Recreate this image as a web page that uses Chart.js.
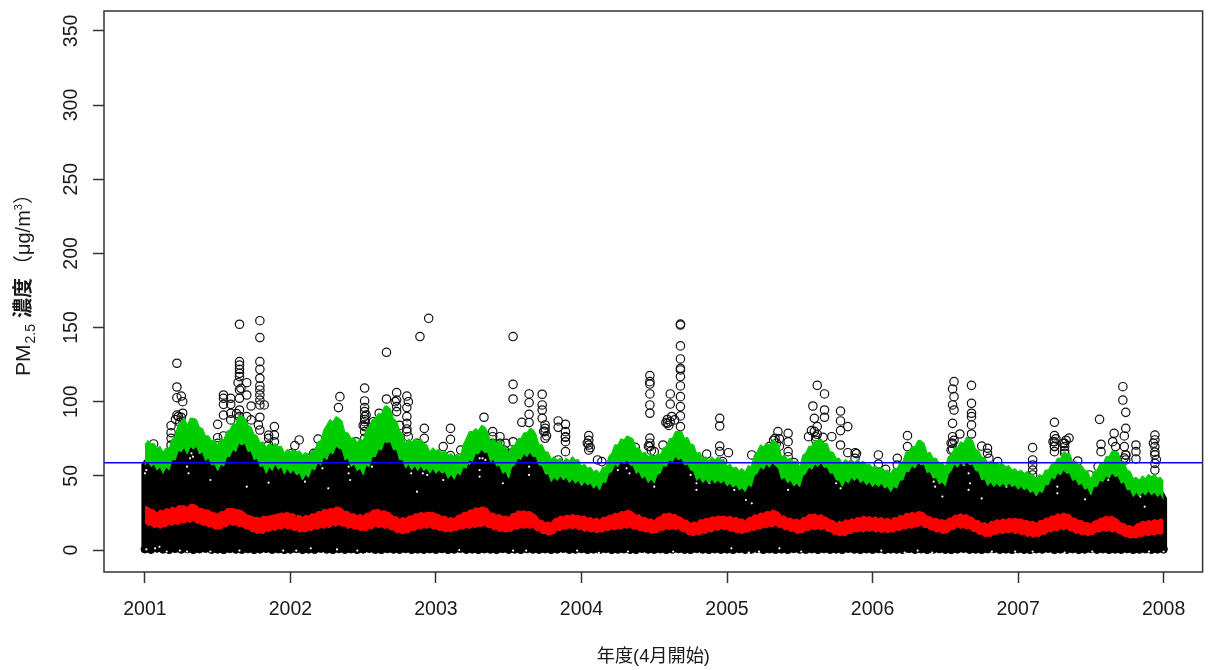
<!DOCTYPE html>
<html>
<head>
<meta charset="utf-8">
<style>
  html, body { margin: 0; padding: 0; background: #fff; }
  canvas { display: block; }
</style>
<script src="https://cdn.jsdelivr.net/npm/chart.js@4/dist/chart.umd.min.js"></script>
</head>
<body>
<canvas id="pmChart" width="1208" height="670"></canvas>
<script>
/* ─── Data ─── */
const yearTicks = [2001, 2002, 2003, 2004, 2005, 2006, 2007, 2008];
const valueTicks = [0, 50, 100, 150, 200, 250, 300, 350];
const referenceLevel = 58.9;

// half-month readings, one row per year
const greenTop = [
  70.8,71.5,68.6,65.9,68.6,76.9,86.5,84.3,88.8,82.7,76.9,73.7,70.8,74.2,80.9,85,90.4,84.3,78.2,72.4,69.2,70.1,69.7,65.6,
  66.3,65.9,64.1,63.2,67,73.7,84.3,86.5,88.8,79.1,75.3,72.4,73.7,83.2,88.8,91.7,97.1,88.8,80.9,71.9,72.8,73.5,71.9,66.3,
  67,65.6,64.1,62.9,62.9,75.3,79.8,80.5,83.2,73,72.4,70.1,65.2,70.8,75.3,79.1,81.4,70.8,66.3,61.4,60.7,59.6,60.2,60.7,
  56.6,55.1,52.8,51.7,55.7,65.6,70.8,74.2,76,68.6,65.2,62.9,62.5,64.1,69.7,75.3,79.8,75.3,71.5,65.2,61.8,60.2,60.7,60.7,
  56.6,55.1,53.5,52.8,56.2,66.3,69.7,70.8,73,62.9,61.1,59.6,56.2,65.6,70.1,73.7,71.9,66.3,61.8,58.4,59.6,58.9,58.9,57.3,
  55.7,54.4,53.5,51.7,54.4,59.6,66.3,69.7,73.7,65.2,61.8,58.4,56.2,64.1,69.2,71.9,75.3,67.9,62.9,58.9,57.3,57.3,56.2,53.9,
  52.8,51.7,50.6,47.7,49.9,53.9,58,61.8,65.2,59.6,56.6,53.9,47.7,53.9,58,62.9,66.3,59.6,53.9,48.3,47.2,48.3,49.5,48.3,46.1
];
// spike tips between the half-month readings
const greenTopTips = [
  74,72,70,69,75,85,89,89,88,82,77,74,75,80,85,91,89,83,77,73,72,72,70,68,
  68,67,66,67,73,81,88,90,87,79,76,75,81,88,92,97,95,87,78,75,75,75,71,69,
  68,67,65,65,71,80,82,84,80,75,74,70,70,75,79,82,78,71,66,63,62,62,63,61,
  58,56,54,56,63,71,75,77,75,69,66,65,65,69,75,80,80,76,71,66,63,63,63,61,
  58,56,55,57,64,71,72,74,71,64,62,60,64,70,74,75,72,66,62,61,61,61,60,58,
  57,56,54,55,59,66,70,74,72,66,62,59,63,69,73,76,74,67,62,60,59,58,57,55,
  54,53,51,51,54,58,62,66,65,60,57,53,53,58,63,67,66,59,53,49,50,51,51,49
];
const greenLow = [
  57.3,56.2,53.9,51.7,53.9,60.7,66.3,64.7,67.9,64.7,60.2,57.3,53.5,56.6,62.9,66.3,70.8,66.3,60.7,56.2,51.7,53.5,54.4,51.2,
  51.7,50.6,47.2,49,53.9,57.3,61.1,64.7,68.6,60.7,56.2,53.5,50.6,56.2,62.9,67.4,72.4,67.4,60.7,55.1,53.9,53.5,53.5,51.7,
  51.7,51.7,48.3,47.7,50.6,55.1,59.6,64.7,65.6,59.6,56.6,51.7,48.3,57.3,61.1,62.9,62.9,57.3,51.7,46.1,46.8,47.2,45.4,45,
  43.2,43.8,41.6,40.5,45.4,52.8,56.2,58,57.3,51.7,48.3,45.4,45,51.7,56.2,59.6,60.7,57.3,53.9,46.8,45.4,44.5,45,45,
  43.2,42.3,40.5,39.3,42.7,51.7,54.4,55.7,56.6,47.7,45.4,43.2,42.7,51.7,54.4,56.2,55.7,51.7,47.2,42.7,45,46.8,45.4,43.8,
  42.7,42.7,41.6,39.3,41.6,47.2,52.8,55.1,57.3,52.1,48.3,44.5,43.2,53.5,55.7,56.6,57.3,53.5,47.2,43.2,42.7,42.7,42.7,42.7,
  40.9,40.5,38.7,36.4,38.7,43.8,47.7,50.6,51.7,46.8,43.8,40.9,37.1,42.7,46.1,48.3,49.5,45,40.5,36,36,37.1,37.1,36,34.2
];
const greenLowTips = [
  60,58,56,56,61,67,69,70,70,66,62,58,58,63,68,72,72,67,62,57,56,58,56,55,
  54,52,51,55,59,63,66,70,68,62,58,55,57,63,68,73,73,68,61,58,57,57,55,55,
  54,53,51,52,56,61,65,68,66,61,57,53,56,62,65,66,63,57,52,49,50,49,48,47,
  46,45,44,46,52,58,60,61,57,53,50,48,51,57,61,63,62,58,53,49,48,48,47,47,
  45,44,42,44,50,56,58,59,55,49,47,45,50,56,58,59,56,52,47,47,49,49,47,46,
  45,45,43,43,47,53,57,59,58,53,49,46,51,58,59,60,58,53,48,46,45,45,45,44,
  43,42,40,40,44,49,52,54,52,48,45,42,43,47,50,52,50,46,41,39,39,40,39,38
];
const redTop = [
  29.2,27.4,25.2,26.3,27.4,28.1,29.7,28.8,30.8,28.1,27,25.6,24.3,25.8,27.9,27.4,26.5,23.4,22,21.4,22.5,23.4,24.3,24.7,
  24.3,22.9,22,22.9,24.3,25.8,27,27.6,28.8,25.8,24.3,23.2,22.9,24.7,27,26.1,25.6,22.5,20.7,21.2,22.9,24.3,24.7,25.2,
  24.3,22.5,21.4,20.9,23.6,25.2,27,27.9,28.8,24.7,23.6,22.5,22,24.7,25.8,25.6,24.7,20.2,18.4,18,21.6,22.5,22.9,23.2,
  22.5,21.6,20.7,20.2,22,23.4,24.3,25.6,26.3,23.4,22,20.7,19.8,22.5,24.3,23.8,22.5,20.2,18,18.4,20.2,21.1,22,22.5,
  22,21.4,20.7,19.8,22,23.4,24.7,25.6,26.3,22.9,21.4,20.2,19.8,22,23.8,22.9,22.5,20.2,18,18.7,19.8,20.7,21.6,22,
  21.4,21.1,20.7,20.2,21.6,22.9,24.3,24.7,25.6,22.9,21.1,20.2,19.6,21.6,23.4,23.4,22.5,19.8,18,17.3,19.3,19.8,20.2,20.7,
  20.7,19.8,18.9,18,19.8,21.4,22.9,23.8,24.3,21.6,19.8,18.4,17.5,19.8,21.6,22,21.4,18,16.2,15.3,18,18.9,19.3,19.8,20.2
];
const redTopTips = [
  29,27,27,28,29,30,30,31,30,28,27,25,26,28,28,27,25,23,22,23,23,24,25,25.5,
  24.5,23.5,23.5,24.5,26,27.5,28,29,28,26,24.5,24,25,27,27.5,26.5,25,22.5,22,23,24.5,25.5,25.5,25.5,
  24,23,22,23.5,25.5,27,28.5,29,28,25,24,23,24.5,26.5,26.5,26,23.5,20,19,21,23,23.5,24,23.5,
  23,22,21.5,22,23.5,25,26,27,25.5,24,22,21,22,24.5,25,24,22,20,19,20.5,21.5,22.5,23,23,
  23,22,21,22,24,25,26,27,25.5,23,21.5,21,22,24,24.5,24,22,20,19.5,20.5,21,22,23,22.5,
  22.5,22,21.5,22,23.5,25,25.5,26,25,22.5,21.5,20.5,21.5,23.5,24.5,24,22,20,18.5,19.5,20.5,21,21.5,21.5,
  21,20,19.5,20,21.5,23,24.5,25,24,21.5,20,18.5,19.5,21.5,23,23,20.5,18,16.5,17.5,19.5,20,20.5,21
];
const redLow = [
  18.4,16.9,15.7,15.7,17.3,18,18.9,19.3,20.2,18,16.9,15.7,14.2,15.7,17.8,17.1,16.2,14.4,12.4,11.7,13,13.9,14.6,15.3,
  14.8,13.5,12.8,13.5,14.6,15.3,15.7,16.9,17.3,16.2,15.3,14.4,13.5,14.6,16.2,15.7,15.3,13.5,11.9,11.7,13.5,14.6,15.3,15.7,
  14.6,13.5,13,13.5,14.6,15.3,15.7,16.2,16.9,15.3,13.9,13,12.8,14.4,15.3,15.3,15.5,13,11.2,10.6,13.5,14.4,15.1,15.3,
  13.9,13.5,12.8,12.4,13.5,14.4,14.6,15.3,15.7,14.4,13.5,12.8,11.7,13.5,14.6,14.6,14.6,12.6,10.3,10.8,11.7,12.6,13.9,14.6,
  14.2,13,11.9,12.1,13.5,14.4,15.3,16.2,16.9,15.3,13.9,12.8,11.7,13.5,14.6,14.6,14.6,12.6,10.8,10.1,11.2,12.6,13,13.5,
  13.5,13,12.6,12.6,13.5,14.6,15.3,15.7,16.9,15.3,13.5,12.6,11.7,13.9,15.7,15.3,14.6,12.4,10.8,9.4,10.8,11.7,12.1,12.4,
  11.7,10.8,9.9,9.4,10.8,12.4,13.5,14.4,14.6,13,11.7,10.8,10.6,12.4,13.5,13.5,13,10.8,9,8.5,9.4,10.3,10.8,11.2,11.7
];
const redLowTips = [
  16.5,15,14.5,15.5,16.5,17,18,18.5,18,16.5,15.5,14,14,15.5,16.5,15.5,14,12.5,11,11,12.5,13,13.8,14,
  13,12,12,13,14,14.5,15,16,16,14.5,14,13,13,14,15,14.5,13.5,11.5,10.8,11.5,13,14,14.5,14,
  13,12,12,13,14,14.5,15,15.5,15,13.5,12.5,12,12.5,14,14.5,14.5,13,11,10,11,13,13.8,14,13.5,
  12.5,12,11.5,12,13,13.5,14,14.5,14,13,12,11,11.5,13,13.5,13.5,12.5,10.5,9.5,10,11,12,13,13.5,
  12.5,11.5,11,12,13,14,15,15.5,15,13.5,12.5,11,11.5,13,13.5,13.5,12.5,10.5,9.5,9.5,11,12,12,12.5,
  12,11.5,11.5,12,13,14,14.5,15.5,15,13.5,12,11,12,14,14.5,14,12.5,10.5,9,9,10.5,11,11.5,11,
  10,9,8.5,9,10.5,12,13,13.5,13,11,10,9.5,10.5,12,12.5,12,11,9,8,8,9,9.5,10,10.5
];
// lowest readings along the floor of the cloud
const floorValues = [
  0.5,0.2,1,0.4,0.1,0.8,0.3,0.6,0.1,0.5,0.9,0.2,0.4,0.1,0.7,0.3,0.2,0.6,0.1,0.4,0.8,0.2,0.5,0.1,
  0.3,0.7,0.1,0.4,0.2,0.9,0.3,0.1,0.6,0.2,0.5,0.1,0.4,0.8,0.2,0.1,0.6,0.3,0.2,0.7,0.1,0.4,0.2,0.5,
  0.2,0.6,0.1,0.3,0.8,0.2,0.4,0.1,0.5,0.3,0.1,0.7,0.2,0.4,0.1,0.6,0.3,0.2,0.5,0.1,0.4,0.8,0.2,0.3,
  0.6,0.1,0.4,0.2,0.7,0.1,0.3,0.5,0.2,0.1,0.8,0.3,0.2,0.5,0.1,0.4,0.6,0.2,0.1,0.7,0.3,0.1,0.5,0.2,
  0.4,0.1,0.6,0.2,0.3,0.8,0.1,0.5,0.2,0.4,0.1,0.7,0.3,0.2,0.5,0.1,0.6,0.2,0.4,0.1,0.8,0.3,0.1,0.5,
  0.2,0.6,0.1,0.4,0.3,0.1,0.7,0.2,0.5,0.1,0.3,0.6,0.2,0.1,0.4,0.8,0.2,0.3,0.1,0.5,0.7,0.2,0.4,0.1,
  0.6,0.2,0.1,0.5,0.3,0.8,0.1,0.4,0.2,0.6,0.1,0.3,0.7,0.2,0.5,0.1,0.4,0.2,0.6,0.1,0.3,0.5,0.2,0.4,0.6
];

// single high readings, one row per year; last rows are the clumps on the green band
const highYears = [
  2001.06, 2001.18,2001.18,2001.18,2001.18, 2001.22,2001.22,2001.22,2001.22, 2001.25,2001.25,2001.26,2001.26,
  2001.50,2001.50,2001.50, 2001.54,2001.54,2001.54,2001.54,2001.54, 2001.59,2001.59,2001.59,2001.59, 2001.64,
  2001.65,2001.65,2001.65,2001.65,2001.65,2001.65,2001.65,2001.65,2001.65, 2001.66, 2001.70,2001.70,2001.70, 2001.73,2001.73, 2001.78,
  2001.79,2001.79,2001.79,2001.79,2001.79,2001.79,2001.79,2001.79,2001.79,2001.79,2001.79,2001.79, 2001.82, 2001.85,2001.85,2001.85, 2001.89,2001.89,2001.89,
  2002.01, 2002.03, 2002.06, 2002.12, 2002.16, 2002.19, 2002.33, 2002.34, 2002.45, 2002.50,
  2002.51,2002.51,2002.51,2002.51,2002.51,2002.51,2002.51,2002.51,2002.51, 2002.57, 2002.61, 2002.66,2002.66,
  2002.72, 2002.73,2002.73,2002.73,2002.73, 2002.80,2002.80,2002.80,2002.80,2002.80,2002.80, 2002.81,2002.81, 2002.87, 2002.89, 2002.92,2002.92, 2002.95,
  2003.05, 2003.10,2003.10,2003.10, 2003.17, 2003.33, 2003.39,2003.39,2003.39, 2003.44,2003.44, 2003.47, 2003.48, 2003.51, 2003.53,2003.53,2003.53,2003.53,
  2003.59, 2003.64,2003.64,2003.64,2003.64, 2003.73,2003.73,2003.73,2003.73, 2003.75,2003.75,2003.75, 2003.84,2003.84,2003.84,
  2003.89,2003.89,2003.89,2003.89,2003.89,
  2004.05,2004.05,2004.05, 2004.11, 2004.14, 2004.37, 2004.47,2004.47,2004.47,2004.47,2004.47,2004.47,2004.47,2004.47, 2004.50, 2004.56, 2004.59,
  2004.61,2004.61,2004.61, 2004.64, 2004.68,2004.68,2004.68,2004.68,2004.68,2004.68,2004.68,2004.68,2004.68,2004.68,2004.68,2004.68,
  2004.86, 2004.95,2004.95,2004.95,2004.95, 2004.97,
  2005.01, 2005.17, 2005.29, 2005.33, 2005.35, 2005.42,2005.42,2005.42,2005.42, 2005.46, 2005.56, 2005.58, 2005.59, 2005.60,
  2005.61, 2005.62,2005.62, 2005.66, 2005.67,2005.67,2005.67, 2005.72, 2005.78,2005.78,2005.78,2005.78, 2005.83,2005.83, 2005.88,2005.88,
  2006.04,2006.04, 2006.09, 2006.17,2006.17, 2006.24,2006.24, 2006.54, 2006.55,2006.55,2006.55,2006.55,2006.55, 2006.56,2006.56,2006.56,
  2006.60, 2006.68,2006.68,2006.68,2006.68,2006.68,2006.68, 2006.75, 2006.79,2006.79, 2006.80, 2006.86,
  2007.10,2007.10,2007.10,2007.10,2007.10, 2007.25,2007.25,2007.25,2007.25,2007.25, 2007.32,2007.32,2007.32, 2007.35, 2007.41, 2007.49,
  2007.55, 2007.56, 2007.57,2007.57, 2007.65, 2007.66, 2007.67, 2007.72,2007.72, 2007.73,2007.73, 2007.74,2007.74,2007.74,2007.74,
  2007.81,2007.81,2007.81, 2007.94,2007.94,2007.94,2007.94,2007.94,2007.94,
  2001.21,2001.23,2001.24, 2001.63,2001.65, 2002.50,2002.51,2002.52, 2002.75, 2003.74,2003.75,2003.76, 2003.89,
  2004.04,2004.05,2004.06, 2004.46,2004.47,2004.48, 2004.58,2004.59,2004.60,2004.62,
  2005.32,2005.34,2005.36,2005.36, 2005.60,2005.61,2005.62, 2005.89, 2006.54,2006.55,2006.56,
  2007.24,2007.25,2007.26, 2007.31,2007.32,2007.33, 2007.73,2007.74, 2007.93,2007.94,2007.95
];
const highValues = [
  71.5, 83.8,79.1,75.3,70.8, 125.9,109.9,102.7,91, 103.8,89.5,100,92.2,
  84.7,75.7,71.9, 104.5,102.3,98.2,91,76.9, 102.3,98.2,92.2,87.7, 112.8,
  152.2,127,124.7,121.8,119.1,116.9,107.9,102.3,94.4, 109, 112.8,104.5,89.9, 97.1,87.7, 84.3,
  154.6,143.2,127,121.8,115.8,110.6,107.9,104.5,101.1,97.8,89.5,80.9, 97.8, 77.5,75.3,70.8, 83.2,77.5,73,
  65.2, 70.4, 74.2, 61.8, 65.2, 74.8, 96, 103.4, 73, 70.8,
  109.2,100.5,96,93.3,89.9,86.5,83.2,79.8,75.3, 86.5, 92.2, 133.3,101.8,
  100, 106.1,101.1,96.7,93.3, 103.8,96,89.9,85.4,81.6,79.8, 100,76.4, 71.9, 143.9, 82,75.3, 156.2,
  69.7, 82,74.6,63.6, 67.4, 89.5, 79.8,76.4,71.9, 76.4,71.9, 67.4, 71.9, 65.2, 143.9,111.7,101.8,73,
  86.1, 105.2,99.3,91.5,85.9, 105,97.8,94.4,88.8, 84.3,79.8,75.3, 87,82.7,60.7,
  84.7,79.8,76.4,73,66.3,
  77.1,70.8,67.4, 60.7, 59.6, 69.2, 117.6,113.5,111.9,105.2,97.8,92.2,75.5,69.7, 66.3, 70.8, 85.4,
  105.2,98.4,86.5, 87.7, 152.3,151.7,137.6,128.8,122.5,121.4,116.9,110.6,103.4,96.7,90.4,83.2,
  64.7, 88.8,83.6,70.1,66.3, 59.6,
  65.6, 64.1, 69.7, 75.3, 79.8, 78.7,73,66.3,62.9, 58.9, 76.4, 80.5, 97.1, 88.8,
  76.4, 111,83.2, 76, 105.2,94.4,89.5, 76.4, 93.7,87,80.5,70.8, 83.2,65.6, 65.6,61.8,
  64.1,58, 54.4, 61.8,57.3, 77.1,69.7, 67.4, 108.6,97.8,85.4,76.4,71.9, 113.5,103.4,94.4,
  78.2, 111,98.9,92.2,89.9,84.3,78.2, 70.1, 68.6,65.2, 61.8, 59.6,
  69,60.7,57.3,53.9,50.6, 86.1,77.1,73,69.7,66.3, 71.9,69.7,65.2, 75.5, 60, 50.6,
  56.2, 88.1, 71.3,66.3, 73, 78.7, 69.7, 110.1,101.1, 69.7,76.9, 92.8,82,64.1,60.7,
  70.8,66.3,61.4, 77.5,74.2,69.7,64.1,58.4,53.9,
  88,90,86, 92,90, 84,88,91, 84, 80,82,77, 76,
  72,74,69, 70,72,67, 86,88,84,90,
  74,72,70,75, 80,74,78, 65, 72,68,74,
  73,70,75, 72,67,74, 62,64, 72,66,61
];

// white gaps left inside the black cloud
const gapYears = [
  2001.01,2001.07,2001.10,2001.15,2001.24,2001.29,2001.45,2001.65,2001.95,2001.32,2001.31,2001.33,2001.29,2001.30,2001.01,2001.00,2001.85,2001.70,2001.45,
  2002.25,2002.40,2002.40,2002.41,2002.56,2002.22,2002.26,2002.83,2002.94,2002.91,2002.10,2002.87,2002.04,2002.14,2002.32,2002.46,
  2003.32,2003.30,2003.34,2003.30,2003.30,2003.23,2003.46,2003.64,2003.64,2003.76,2003.05,2003.16,2003.53,2003.62,
  2004.31,2004.33,2004.25,2004.75,2004.79,2004.79,2004.88,2004.50,2003.97,2004.12,2004.32,2004.63,
  2005.13,2005.17,2005.05,2005.75,2005.78,2005.42,2005.03,2005.15,2005.22,2005.36,2005.51,
  2006.43,2006.48,2006.63,2006.66,2006.67,2006.66,2006.75,2006.92,2006.42,2006.06,2006.22,2006.31,2006.41,2006.82,
  2007.27,2007.27,2007.62,2007.46,2007.87,2007.84,2006.98,2007.10,2007.32,2007.51,2007.90,2008.00
];
const gapValues = [
  0.4,1.1,2.2,-1,-0.4,-1,-1,-0.4,-0.4,65.2,61.8,62.9,56.2,51.7,53.9,51.7,45.4,42.7,47.2,
  61.8,56.2,51.7,47.2,56.2,55.1,41.6,51.7,50.6,51.7,46.1,39.3,-0.4,1.1,0.4,-0.4,
  61.8,61.8,60.7,53.9,49.5,58.4,45,56.2,50.6,51.7,47.2,0,-0.4,-0.4,
  55.1,51.7,53.9,50.6,45,40.5,45,42.7,-0.4,-2,-1,-1,
  33.7,31.5,40.5,45,41.6,40.5,1.1,-1.8,-1,1.1,-1,
  42.7,36,57.3,51.7,45,40.5,34.8,42.7,46.1,-0.4,-1.8,-0.4,-1.8,-1,
  42.7,38.2,47.2,34.2,29.2,36,-1,-1,-1.8,-1,-1,-1
];

/* ─── Helpers ─── */
// reading, tip, reading, tip ... every quarter of a month
const weave = (readings, tips) =>
  readings.flatMap((v, i) => (i < tips.length ? [v, tips[i]] : [v]));
const alongYears = (values) => values.map((v, i) => ({ x: 2001 + i / 48, y: v }));
const onSamples = (values) => values.map((v, i) => ({ x: 2001 + i / 24, y: v }));
const zip = (xs, ys) => xs.map((x, i) => ({ x: x, y: ys[i] }));

const cloudEdge = alongYears(weave(greenLow, greenLowTips));
const cloudOutline = [{ x: 2001, y: 0 }, ...cloudEdge, { x: 2008, y: 0 }];

const AXIS_COLOR = "#333333";
const LATIN = '"Liberation Sans", Arial, sans-serif';
const CJK = '"Liberation Sans", "Noto Sans CJK JP", sans-serif';

/* ─── Box and rotated y title (subscript needs separate runs) ─── */
const frame = {
  id: "frame",
  afterDatasetsDraw(chart) {
    const { ctx, chartArea: a } = chart;
    ctx.save();
    ctx.strokeStyle = AXIS_COLOR;
    ctx.lineWidth = 1.5;
    ctx.strokeRect(a.left, a.top, a.right - a.left, a.bottom - a.top);
    ctx.restore();
  },
  afterDraw(chart) {
    const { ctx } = chart;
    const runs = [
      { text: "PM", font: "21px " + LATIN, shift: 0, gap: 0 },
      { text: "2.5", font: "14px " + LATIN, shift: 5, gap: 1 },
      { text: "濃度", font: "bold 20px " + CJK, shift: 0, gap: 6 },
      { text: "（μg/m", font: "20px " + CJK, shift: 0, gap: 3 },
      { text: "3", font: "11px " + LATIN, shift: -8, gap: 0 },
      { text: "）", font: "20px " + CJK, shift: 0, gap: 0 },
    ];
    ctx.save();
    ctx.translate(30, 376);
    ctx.rotate(-Math.PI / 2);
    ctx.fillStyle = "#1a1a1a";
    ctx.textBaseline = "alphabetic";
    let pos = 0;
    runs.forEach((r) => {
      pos += r.gap;
      ctx.font = r.font;
      ctx.fillText(r.text, pos, r.shift);
      pos += ctx.measureText(r.text).width;
    });
    ctx.restore();
  },
};

/* ─── Chart ─── */
new Chart(document.getElementById("pmChart"), {
  type: "scatter",
  plugins: [frame],
  data: {
    datasets: [
      {
        label: "高濃度",
        data: zip(highYears, highValues),
        showLine: false,
        pointStyle: "circle",
        pointRadius: 4.2,
        pointBorderWidth: 1.2,
        pointBorderColor: "#111",
        pointBackgroundColor: "transparent",
        order: 7,
      },
      {
        label: "cloud",
        data: cloudOutline,
        showLine: true,
        borderColor: "#000",
        borderWidth: 7,
        borderJoinStyle: "round",
        pointRadius: 0,
        backgroundColor: "#000",
        fill: { value: 0 },
        order: 6,
      },
      {
        label: "floor",
        data: onSamples(floorValues),
        showLine: false,
        pointRadius: 3.8,
        pointBorderWidth: 1,
        pointBorderColor: "#000",
        pointBackgroundColor: "#000",
        order: 5,
      },
      {
        label: "gaps",
        data: zip(gapYears, gapValues),
        showLine: false,
        pointRadius: 1.1,
        pointBorderWidth: 0,
        pointBackgroundColor: "#fff",
        order: 4,
      },
      {
        label: "上限",
        data: alongYears(weave(greenTop, greenTopTips)),
        showLine: true,
        borderColor: "#00cd00",
        borderWidth: 1,
        pointRadius: 0,
        backgroundColor: "#00cd00",
        fill: "+1",
        order: 3,
      },
      {
        label: "上限下",
        data: cloudEdge,
        showLine: true,
        borderColor: "#00cd00",
        borderWidth: 1,
        pointRadius: 0,
        fill: false,
        order: 3,
      },
      {
        label: "平均",
        data: alongYears(weave(redTop, redTopTips)),
        showLine: true,
        borderColor: "#ff0000",
        borderWidth: 1,
        pointRadius: 0,
        backgroundColor: "#ff0000",
        fill: "+1",
        order: 2,
      },
      {
        label: "平均下",
        data: alongYears(weave(redLow, redLowTips)),
        showLine: true,
        borderColor: "#ff0000",
        borderWidth: 1,
        pointRadius: 0,
        fill: false,
        order: 2,
      },
      {
        label: "基準",
        data: [
          { x: 2000, y: referenceLevel },
          { x: 2009, y: referenceLevel },
        ],
        showLine: true,
        borderColor: "#0000ff",
        borderWidth: 1.5,
        pointRadius: 0,
        fill: false,
        order: 1,
      },
    ],
  },
  options: {
    responsive: false,
    animation: false,
    layout: { padding: { top: 11, right: 4, left: 0, bottom: 0 } },
    plugins: { legend: { display: false }, tooltip: { enabled: false } },
    scales: {
      x: {
        type: "linear",
        min: 2000.719,
        max: 2008.268,
        afterBuildTicks: (axis) => {
          axis.ticks = yearTicks.map((v) => ({ value: v }));
        },
        afterFit: (axis) => {
          axis.height = 98;
          axis.paddingLeft = 0;
          axis.paddingRight = 0;
        },
        grid: {
          drawOnChartArea: false,
          tickLength: 11,
          tickColor: AXIS_COLOR,
          tickWidth: 1.5,
        },
        border: { display: false },
        ticks: {
          color: "#1a1a1a",
          padding: 15,
          maxRotation: 0,
          autoSkip: false,
          font: { family: LATIN, size: 19.5 },
          callback: (v) => String(v),
        },
        title: {
          display: true,
          text: "年度(4月開始)",
          color: "#1a1a1a",
          font: { family: CJK, size: 18.2 },
          padding: { top: 0, bottom: 2 },
        },
      },
      y: {
        type: "linear",
        min: -14.83,
        max: 363.4,
        afterBuildTicks: (axis) => {
          axis.ticks = valueTicks.map((v) => ({ value: v }));
        },
        afterFit: (axis) => {
          axis.width = 104;
          axis.paddingTop = 0;
          axis.paddingBottom = 0;
        },
        grid: {
          drawOnChartArea: false,
          tickLength: 11,
          tickColor: AXIS_COLOR,
          tickWidth: 1.5,
        },
        border: { display: false },
        ticks: {
          color: "#1a1a1a",
          padding: 5,
          crossAlign: "center",
          minRotation: 90,
          maxRotation: 90,
          autoSkip: false,
          font: { family: LATIN, size: 19.5 },
          callback: (v) => String(v),
        },
      },
    },
  },
});
</script>
</body>
</html>
